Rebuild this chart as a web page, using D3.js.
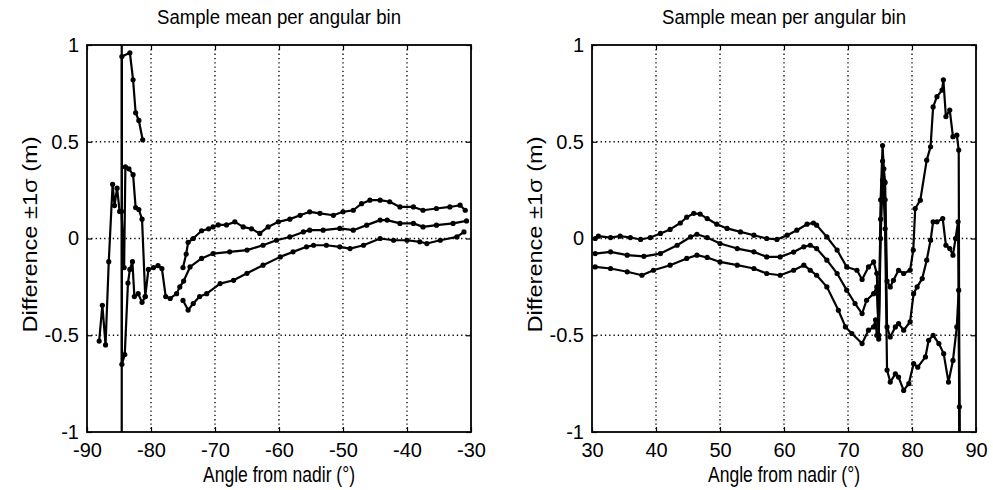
<!DOCTYPE html>
<html><head><meta charset="utf-8">
<script src="https://cdn.jsdelivr.net/npm/d3@7"></script>
<style>
body{margin:0;background:#fff;}
text{font-family:"Liberation Sans",Arial,Helvetica,sans-serif;fill:#000;}
</style></head>
<body><svg id="c" width="993" height="490"></svg>
<script>
// ---------- data ----------
const title = "Sample mean per angular bin";
const yLabel = "Difference \u00B11\u03C3 (m)";
const xLabel = "Angle from nadir (\u00B0)";
const yTicks = [-1, -0.5, 0, 0.5, 1];
const yTickLabels = ["-1", "-0.5", "0", "0.5", "1"];
const leftXTicks = [-90, -80, -70, -60, -50, -40, -30];
const leftXTickLabels = ["-90", "-80", "-70", "-60", "-50", "-40", "-30"];
const rightXTicks = [30, 40, 50, 60, 70, 80, 90];
const rightXTickLabels = ["30", "40", "50", "60", "70", "80", "90"];

// Left panel (negative angles). NaN = gap
const leftUpperX = [-84.6, -84.55, -83.3, -82.8, -82.4, -81.9, -81.3, NaN,
  -75.0, -74.5, -74.2, -73.4, -72.1, -71.0, -70.3, -69.5, -68.2, -66.9, -65.6, -64.3, -63.0, -61.7, -60.1, -58.3, -56.7, -55.2, -53.6, -51.5, -50.0, -48.4, -47.1, -45.8, -44.2, -42.7, -41.1, -39.0, -37.5, -35.4, -33.3, -31.7, -30.9];
const leftUpperY = [-3, 0.94, 0.96, 0.82, 0.65, 0.61, 0.51, NaN,
  -0.15, -0.08, -0.02, 0.0, 0.04, 0.05, 0.06, 0.07, 0.07, 0.086, 0.06, 0.05, 0.026, 0.06, 0.086, 0.10, 0.12, 0.138, 0.13, 0.12, 0.138, 0.146, 0.18, 0.198, 0.198, 0.19, 0.163, 0.163, 0.146, 0.155, 0.163, 0.172, 0.146];

const leftMeanX = [-88.1, -87.6, -87.1, -86.6, -86.0, -85.7, -85.3, -84.9, -84.6, -84.2, -84.0, -83.45, -82.8, -82.4, -81.9, -81.4, -80.9, -80.4, -79.6, -78.9, -78.3, -77.7, -77.0, -76.0, -75.5, -74.9, -73.9, -72.1, -70.3, -67.7, -65.0, -62.5, -60.4, -58.3, -56.2, -55.2, -53.1, -50.5, -48.4, -46.3, -44.2, -43.1, -41.1, -39.0, -37.5, -35.4, -32.8, -30.7];
const leftMeanY = [-0.53, -0.345, -0.55, -0.12, 0.28, 0.17, 0.26, 0.14, 0.14, -0.15, 0.37, 0.36, 0.33, 0.16, 0.15, 0.10, -0.30, -0.16, -0.15, -0.14, -0.155, -0.30, -0.31, -0.285, -0.25, -0.22, -0.147, -0.103, -0.078, -0.069, -0.06, -0.035, -0.009, 0.008, 0.034, 0.043, 0.043, 0.052, 0.043, 0.069, 0.095, 0.095, 0.078, 0.078, 0.06, 0.069, 0.078, 0.091];

const leftLowerX = [-84.6, -84.55, -84.1, -83.6, -83.3, -82.9, -82.6, -82.0, -81.4, -80.9, NaN,
  -75.0, -74.2, -73.4, -72.4, -71.3, -69.2, -67.1, -65.0, -62.5, -59.8, -57.8, -55.7, -54.6, -52.6, -50.5, -48.9, -46.8, -44.2, -42.1, -40.0, -38.0, -36.9, -34.8, -32.2, -31.1];
const leftLowerY = [3, -0.65, -0.60, -0.23, -0.16, -0.12, -0.30, -0.285, -0.33, -0.30, NaN,
  -0.32, -0.37, -0.336, -0.30, -0.285, -0.233, -0.216, -0.18, -0.138, -0.095, -0.069, -0.043, -0.035, -0.035, -0.043, -0.052, -0.035, 0.0, -0.009, -0.009, -0.017, -0.026, -0.009, 0.008, 0.034];

// Right panel (positive angles)
const rightUpperX = [30.5, 31.0, 32.9, 34.4, 36.0, 37.6, 39.1, 40.7, 42.2, 43.8, 44.8, 45.9, 46.9, 48.0, 49.5, 51.1, 53.2, 55.3, 57.3, 58.9, 60.5, 62.0, 63.6, 64.6, 65.1, 66.7, 68.3, 69.8, 71.4, 72.2, 73.2, 74.0, 74.5, 74.8, 75.1, 75.4, 75.6, 75.8, 76.1, 76.6, 77.1, 77.9, 78.7, 79.7, 80.2, 80.5, 81.3, 82.3, 82.9, 83.3, 83.9, 84.7, 84.9, 85.3, 85.9, 86.4, 87.0, 87.3, 87.4, 87.5];
const rightUpperY = [0.0, 0.012, 0.005, 0.012, 0.005, -0.005, 0.005, 0.026, 0.047, 0.08, 0.11, 0.13, 0.126, 0.103, 0.074, 0.052, 0.034, 0.017, 0.0, -0.005, 0.017, 0.043, 0.074, 0.08, 0.069, 0.008, -0.06, -0.147, -0.164, -0.212, -0.147, -0.121, -0.18, -0.5, 0.2, 0.48, 0.36, 0.29, -0.22, -0.25, -0.216, -0.164, -0.181, -0.164, -0.06, 0.155, 0.198, 0.405, 0.474, 0.68, 0.733, 0.767, 0.82, 0.63, 0.664, 0.526, 0.534, 0.457, -0.87, -1.5];

const rightMeanX = [30.5, 32.9, 35.5, 38.1, 40.7, 43.3, 45.4, 46.4, 48.0, 50.0, 52.7, 55.3, 57.3, 59.4, 61.5, 63.1, 64.1, 65.1, 66.7, 68.3, 69.8, 71.1, 72.2, 72.9, 74.0, 74.5, 74.8, 75.1, 75.4, 75.6, 75.8, 76.1, 76.6, 77.4, 77.9, 78.7, 79.7, 80.25, 80.8, 81.6, 82.3, 82.9, 83.3, 83.9, 84.8, 85.3, 85.9, 86.4, 86.8, 87.2, 87.5];
const rightMeanY = [-0.078, -0.069, -0.086, -0.092, -0.078, -0.035, 0.008, 0.022, 0.005, -0.026, -0.052, -0.069, -0.095, -0.095, -0.07, -0.043, -0.035, -0.052, -0.112, -0.181, -0.267, -0.336, -0.388, -0.319, -0.285, -0.25, -0.5, 0.1, 0.4, 0.3, 0.2, -0.457, -0.509, -0.457, -0.44, -0.474, -0.431, -0.285, -0.25, -0.207, -0.112, -0.009, 0.086, 0.086, 0.103, -0.035, -0.052, -0.086, 0.0, 0.086, -1.5];

const rightLowerX = [30.5, 32.9, 35.5, 37.8, 39.6, 42.2, 44.8, 46.4, 48.0, 50.0, 52.7, 55.3, 57.3, 59.4, 61.5, 63.1, 64.1, 65.1, 66.7, 68.5, 69.6, 70.6, 72.2, 73.2, 74.0, 74.3, 74.5, 74.8, 75.1, 75.4, 75.6, 75.8, 76.1, 76.6, 77.4, 77.9, 78.7, 79.5, 80.25, 80.9, 82.1, 82.6, 83.3, 84.2, 84.95, 85.7, 86.4, 87.0, 87.3, 87.5];
const rightLowerY = [-0.147, -0.155, -0.172, -0.19, -0.164, -0.138, -0.103, -0.086, -0.098, -0.121, -0.138, -0.155, -0.181, -0.19, -0.164, -0.138, -0.164, -0.19, -0.25, -0.371, -0.457, -0.491, -0.543, -0.474, -0.457, -0.42, -0.5, -0.52, 0.0, 0.3, 0.2, 0.05, -0.68, -0.742, -0.70, -0.716, -0.785, -0.75, -0.647, -0.665, -0.612, -0.526, -0.50, -0.543, -0.595, -0.742, -0.63, -0.457, -0.267, -1.5];

// ---------- drawing ----------
const svg = d3.select("#c");
const plotTop = 45, plotBottom = 432, panelW = 384;
const panels = [
  {left: 87, domain: [-90, -30], ticks: leftXTicks, labels: leftXTickLabels,
   series: [[leftUpperX, leftUpperY], [leftMeanX, leftMeanY], [leftLowerX, leftLowerY]]},
  {left: 592, domain: [30, 90], ticks: rightXTicks, labels: rightXTickLabels,
   series: [[rightUpperX, rightUpperY], [rightMeanX, rightMeanY], [rightLowerX, rightLowerY]]}
];

panels.forEach((p, i) => {
  const x = d3.scaleLinear().domain(p.domain).range([p.left, p.left + panelW]);
  const y = d3.scaleLinear().domain([-1, 1]).range([plotBottom, plotTop]);
  const g = svg.append("g");
  const clipId = "clip" + i;
  svg.append("clipPath").attr("id", clipId).append("rect")
    .attr("x", p.left).attr("y", plotTop).attr("width", panelW).attr("height", plotBottom - plotTop);

  // grid
  const grid = g.append("g");
  p.ticks.slice(1, -1).forEach(t => grid.append("line")
    .attr("x1", x(t)).attr("x2", x(t)).attr("y1", plotTop).attr("y2", plotBottom));
  yTicks.slice(1, -1).forEach(t => grid.append("line")
    .attr("x1", p.left).attr("x2", p.left + panelW).attr("y1", y(t)).attr("y2", y(t)));
  grid.selectAll("line").attr("stroke", "#000").attr("stroke-width", 1.3)
    .attr("stroke-dasharray", "1.3,3");

  // axes (MATLAB-like: inward ticks, box)
  const ax = d3.axisBottom(x).tickValues(p.ticks).tickSize(-5).tickPadding(11)
    .tickFormat((d, k) => p.labels[k]);
  const ay = d3.axisLeft(y).tickValues(yTicks).tickSize(-5).tickPadding(8)
    .tickFormat((d, k) => yTickLabels[k]);
  const axT = d3.axisTop(x).tickValues(p.ticks).tickSize(-5).tickFormat("");
  const ayR = d3.axisRight(y).tickValues(yTicks).tickSize(-5).tickFormat("");
  [[ax, `translate(0,${plotBottom})`], [ay, `translate(${p.left},0)`], [axT, `translate(0,${plotTop})`], [ayR, `translate(${p.left + panelW},0)`]]
    .forEach(([a, tr]) => {
      const gg = g.append("g").attr("transform", tr).call(a);
      gg.select(".domain").remove();
      gg.selectAll(".tick line").attr("stroke", "#000").attr("stroke-width", 1.2);
      gg.selectAll("text").style("font-size", "20px").style("font-family", "'Liberation Sans',Arial,sans-serif").attr("fill", "#000");
    });
  g.append("rect").attr("x", p.left).attr("y", plotTop).attr("width", panelW).attr("height", plotBottom - plotTop)
    .attr("fill", "none").attr("stroke", "#000").attr("stroke-width", 1.8);

  // data
  const dg = g.append("g").attr("clip-path", `url(#${clipId})`);
  const line = d3.line().defined(d => !isNaN(d[0])).x(d => x(d[0])).y(d => y(d[1]));
  p.series.forEach(([xs, ys]) => {
    const pts = xs.map((v, k) => [v, ys[k]]);
    dg.append("path").datum(pts).attr("d", line).attr("fill", "none")
      .attr("stroke", "#000").attr("stroke-width", 2.2).attr("stroke-linejoin", "round");
    dg.selectAll(null).data(pts.filter(d => !isNaN(d[0]))).enter().append("circle")
      .attr("cx", d => x(d[0])).attr("cy", d => y(d[1])).attr("r", 2.6).attr("fill", "#000");
  });

  // labels
  const cx = p.left + panelW / 2;
  svg.append("text").attr("x", cx).attr("y", 24).attr("text-anchor", "middle")
    .style("font-size", "20px").attr("textLength", 244).attr("lengthAdjust", "spacingAndGlyphs").text(title);
  svg.append("text").attr("x", cx).attr("y", 482).attr("text-anchor", "middle")
    .style("font-size", "22px").attr("textLength", 152).attr("lengthAdjust", "spacingAndGlyphs").text(xLabel);
  svg.append("text").attr("transform", `translate(${p.left - 50},${(plotTop + plotBottom) / 2 - 4}) rotate(-90)`)
    .attr("text-anchor", "middle").style("font-size", "21px")
    .attr("textLength", 196).attr("lengthAdjust", "spacingAndGlyphs").text(yLabel);
});
</script></body></html>
